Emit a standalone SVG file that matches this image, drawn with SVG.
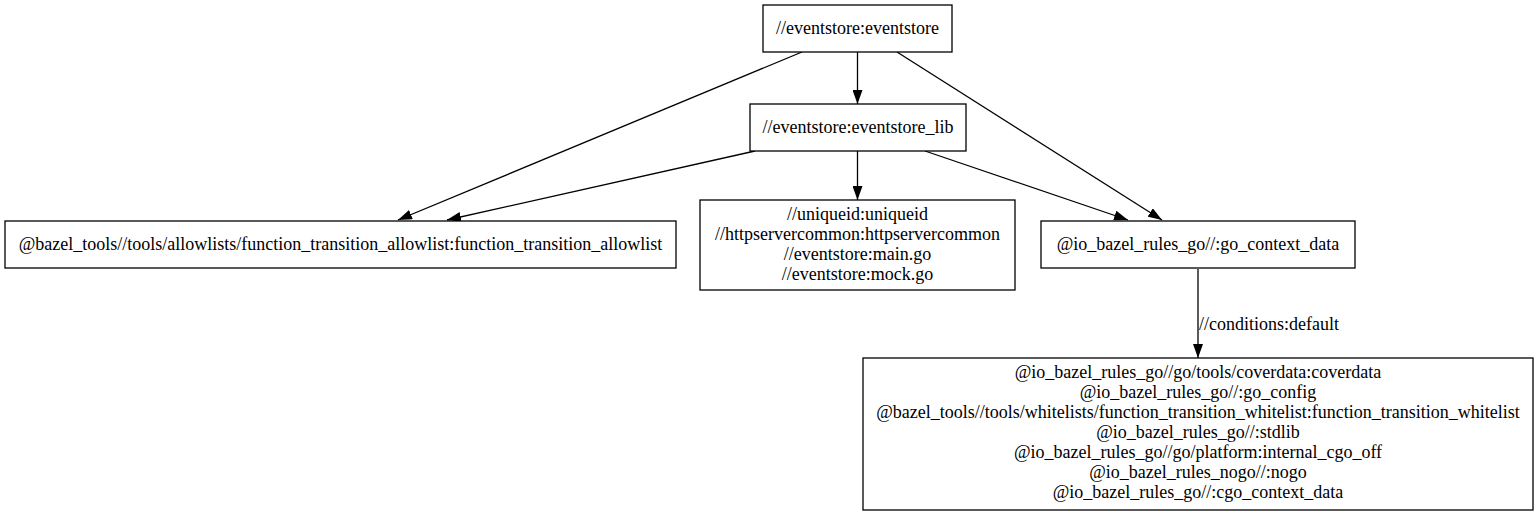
<svg xmlns="http://www.w3.org/2000/svg" width="1539" height="515" viewBox="0 0 1539 515" font-family="'Liberation Serif', 'Times New Roman', 'DejaVu Serif', serif">
<defs>
<style>
.n rect{fill:#fff;stroke:#000;stroke-width:1.3}
text{font-family:'Liberation Serif','Times New Roman','DejaVu Serif',serif;font-size:18px;fill:#000;text-anchor:middle}
.e path{fill:none;stroke:#000;stroke-width:1.3}
</style>
<marker id="a" viewBox="0 0 14 10" refX="14" refY="5" markerWidth="14" markerHeight="10" orient="auto" markerUnits="userSpaceOnUse">
<path d="M0,0 L14,5 L0,10 Z" fill="#000"/>
</marker>
</defs>
<rect width="1539" height="515" fill="#fff"/>
<g class="e" id="edges">
<path d="M802,52 L398,220" marker-end="url(#a)"/>
<path d="M857.5,52 L857.5,104" marker-end="url(#a)"/>
<path d="M897,52 L1162,220" marker-end="url(#a)"/>
<path d="M755,151 L447,220" marker-end="url(#a)"/>
<path d="M857.5,151 L857.5,200" marker-end="url(#a)"/>
<path d="M925,151 L1128,220" marker-end="url(#a)"/>
<path d="M1198,269 L1198,358" marker-end="url(#a)"/>
<text x="1199" y="330" style="text-anchor:start">//conditions:default</text>
</g>
<g class="n" id="eventstore"><rect x="763" y="5" width="189" height="47"/><text x="857.5" y="34">//eventstore:eventstore</text></g>
<g class="n" id="eventstore_lib"><rect x="750" y="104" width="216" height="47"/><text x="858" y="133">//eventstore:eventstore_lib</text></g>
<g class="n" id="allowlist"><rect x="5" y="221" width="671" height="47"/><text x="340.5" y="250">@bazel_tools//tools/allowlists/function_transition_allowlist:function_transition_allowlist</text></g>
<g class="n" id="srcs"><rect x="700" y="200" width="315" height="90"/>
<text x="857.5" y="220">//uniqueid:uniqueid</text>
<text x="857.5" y="240">//httpservercommon:httpservercommon</text>
<text x="857.5" y="260">//eventstore:main.go</text>
<text x="857.5" y="280">//eventstore:mock.go</text></g>
<g class="n" id="go_context_data"><rect x="1041" y="221" width="314" height="47"/><text x="1198" y="250">@io_bazel_rules_go//:go_context_data</text></g>
<g class="n" id="deps"><rect x="863" y="358" width="670" height="152"/>
<text x="1198" y="378">@io_bazel_rules_go//go/tools/coverdata:coverdata</text>
<text x="1198" y="398">@io_bazel_rules_go//:go_config</text>
<text x="1198" y="418">@bazel_tools//tools/whitelists/function_transition_whitelist:function_transition_whitelist</text>
<text x="1198" y="438">@io_bazel_rules_go//:stdlib</text>
<text x="1198" y="458">@io_bazel_rules_go//go/platform:internal_cgo_off</text>
<text x="1198" y="478">@io_bazel_rules_nogo//:nogo</text>
<text x="1198" y="498">@io_bazel_rules_go//:cgo_context_data</text></g>
</svg>
